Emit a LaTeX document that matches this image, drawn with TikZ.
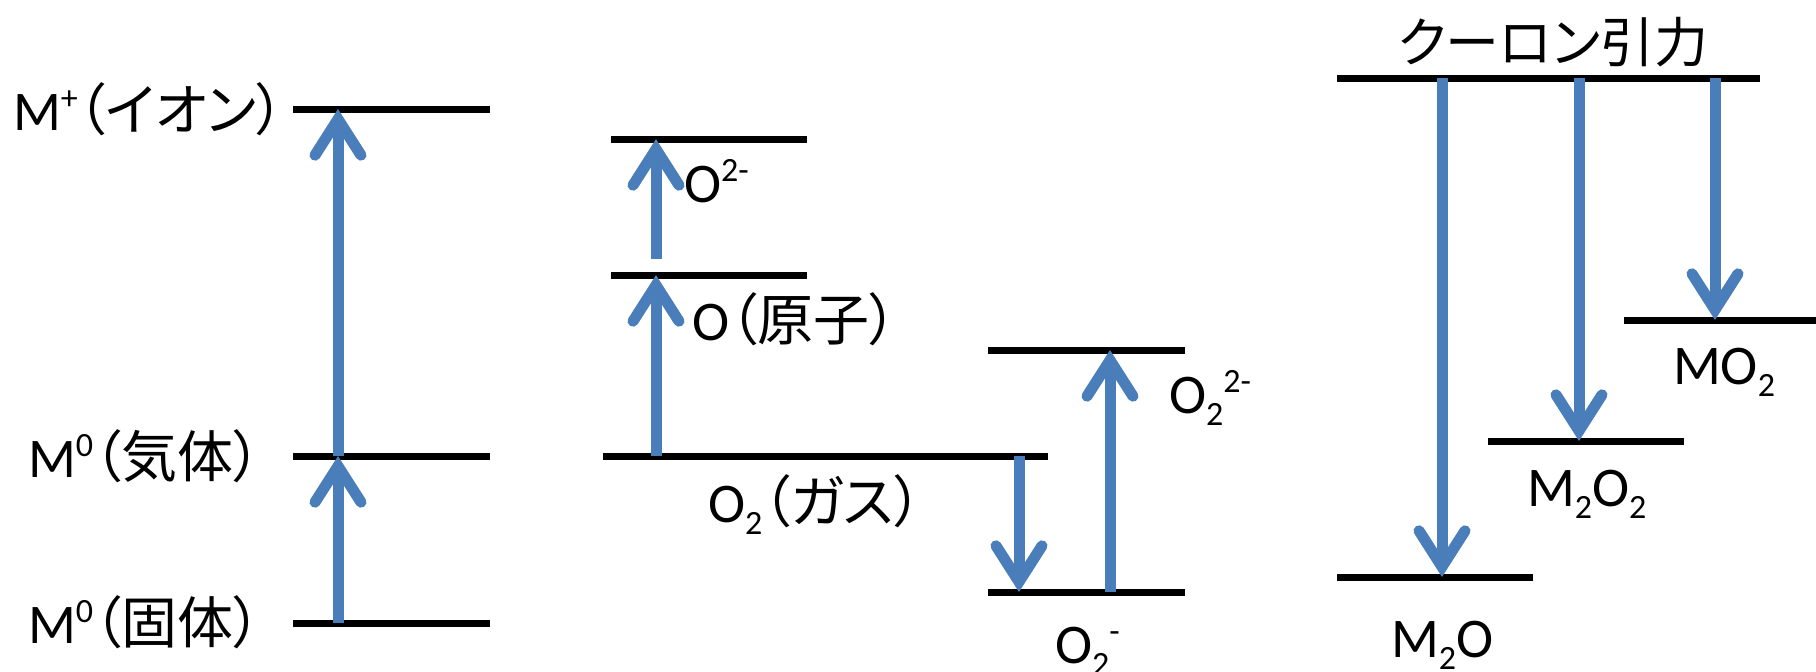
\documentclass[tikz,border=0pt]{standalone}
\usepackage{fontspec}
\setmainfont{Carlito}
\newfontfamily\jp[RawFeature=+palt]{Noto Sans CJK JP}
\usetikzlibrary{arrows.meta}
\definecolor{arrowblue}{RGB}{74,126,187}
\newcommand{\mysub}[1]{\raisebox{-0.22em}{\fontsize{34}{34}\selectfont #1}}
\newcommand{\mysup}[1]{\raisebox{0.36em}{\fontsize{34}{34}\selectfont #1}}
\begin{document}
\begin{tikzpicture}[x=1pt,y=-1pt,
  level/.style={line width=7pt},
  trans/.style={draw=arrowblue, line width=11pt,
    -{Straight Barb[length=36pt,width=46pt,line cap=round,line join=miter]}},
  lbl/.style={anchor=base west, inner sep=0pt, outer sep=0pt,
    font=\fontsize{56}{60}\selectfont},
  jlbl/.style={anchor=center, inner sep=0pt, outer sep=0pt,
    font=\fontsize{54}{60}\selectfont\jp}]
\useasboundingbox (0,0) rectangle (1816,672);

% ---------- left: metal ----------
\coordinate (ionL) at (293,109); \coordinate (ionR) at (490,109);
\coordinate (gasL) at (293,456); \coordinate (gasR) at (490,456);
\coordinate (solL) at (293,623); \coordinate (solR) at (490,623);
\draw[level] (ionL) -- (ionR);
\draw[level] (gasL) -- (gasR);
\draw[level] (solL) -- (solR);
\coordinate (mIon) at (338,109);
\coordinate (mGas) at (338,456);
\coordinate (mSol) at (338,623);
\draw[trans] (mSol) -- (mGas);
\draw[trans] (mGas) -- (mIon);
\node[lbl] (tIon) at (13,130) {M\mysup{+}{\jp （イオン）}};
\node[lbl] (tGas) at (28,477) {M\mysup{0}{\jp （気体）}};
\node[lbl] (tSol) at (28,643) {M\mysup{0}{\jp （固体）}};

% ---------- middle: oxygen ----------
\coordinate (odL) at (611,139); \coordinate (odR) at (807,139);
\coordinate (oaL) at (611,275); \coordinate (oaR) at (807,275);
\coordinate (ogL) at (603,456); \coordinate (ogR) at (1048,456);
\coordinate (pL) at (988,350);  \coordinate (pR) at (1185,350);
\coordinate (sL) at (988,592);  \coordinate (sR) at (1185,592);
\draw[level] (odL) -- (odR);
\draw[level] (oaL) -- (oaR);
\draw[level] (ogL) -- (ogR);
\draw[level] (pL) -- (pR);
\draw[level] (sL) -- (sR);
\coordinate (oGas) at (656,456);
\coordinate (oAtom) at (656,275);
\coordinate (oAtom2) at (656,259);
\coordinate (oDi) at (656,139);
\draw[trans] (oGas) -- (oAtom);
\draw[trans] (oAtom2) -- (oDi);
\coordinate (gDown) at (1019,456);
\coordinate (sDown) at (1019,592);
\coordinate (sUp) at (1110,592);
\coordinate (pUp) at (1110,350);
\draw[trans] (gDown) -- (sDown);
\draw[trans] (sUp) -- (pUp);
\node[lbl] (tOd) at (684,202) {O\mysup{2-}};
\node[lbl] (tOa) at (692,340) {O{\jp （原子）}};
\node[lbl] (tOg) at (708,522) {O\mysub{2}{\jp （ガス）}};
\node[lbl] (tP) at (1169,413) {O\mysub{2}\mysup{2-}};
\node[lbl] (tS) at (1055,663) {O\mysub{2}\mysup{-}};

% ---------- right: Coulomb ----------
\coordinate (cL) at (1337,78); \coordinate (cR) at (1760,78);
\coordinate (m2oL) at (1337,577); \coordinate (m2oR) at (1533,577);
\coordinate (m2o2L) at (1488,441); \coordinate (m2o2R) at (1684,441);
\coordinate (mo2L) at (1624,320); \coordinate (mo2R) at (1816,320);
\draw[level] (cL) -- (cR);
\draw[level] (m2oL) -- (m2oR);
\draw[level] (m2o2L) -- (m2o2R);
\draw[level] (mo2L) -- (mo2R);
\coordinate (c1) at (1442,78);  \coordinate (e1) at (1442,577);
\coordinate (c2) at (1579,78);  \coordinate (e2) at (1579,441);
\coordinate (c3) at (1715,78);  \coordinate (e3) at (1715,320);
\draw[trans] (c1) -- (e1);
\draw[trans] (c2) -- (e2);
\draw[trans] (c3) -- (e3);
\node[jlbl] (tC) at (1553,42) {クーロン引力};
\node[lbl] (tMO2) at (1673,384) {MO\mysub{2}};
\node[lbl] (tM2O2) at (1527,506) {M\mysub{2}O\mysub{2}};
\node[lbl] (tM2O) at (1391,657) {M\mysub{2}O};
\end{tikzpicture}
\end{document}
